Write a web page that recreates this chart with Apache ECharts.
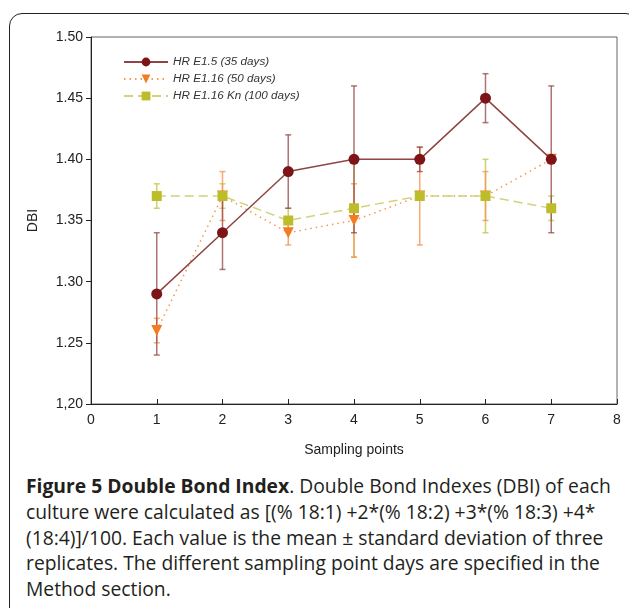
<!DOCTYPE html>
<html>
<head>
<meta charset="utf-8">
<script src="https://cdn.jsdelivr.net/npm/echarts@6/dist/echarts.min.js"></script>
<style>
  html, body { margin: 0; padding: 0; background: #fff; }
  #wrap { position: relative; width: 629px; height: 608px; overflow: hidden; }
  #frame { position: absolute; left: 9px; top: 13px; width: 630px; height: 640px;
           border: 1.5px solid #222; border-radius: 13px; box-sizing: border-box; }
  #chart { position: absolute; left: 0; top: 0; width: 629px; height: 470px; }
  #caption { position: absolute; left: 26px; top: 473px; width: 600px;
             font-family: "Open Sans", sans-serif; font-size: 19.3px; line-height: 25.8px;
             color: #231f20; white-space: nowrap; }
  #caption b { font-weight: 700; }
</style>
</head>
<body>
<div id="wrap">
  <div id="frame"></div>
  <div id="chart"></div>
  <div id="caption"><b>Figure 5 Double Bond Index</b>. Double Bond Indexes (DBI) of each<br>culture were calculated as [(% 18:1) +2*(% 18:2) +3*(% 18:3) +4*<br>(18:4)]/100. Each value is the mean ± standard deviation of three<br>replicates. The different sampling point days are specified in the<br>Method section.</div>
</div>
<script>
    // sampling points 1..7
    var samplingPoints = [1, 2, 3, 4, 5, 6, 7];
    var xTickLabels = ['0', '1', '2', '3', '4', '5', '6', '7', '8'];
    var yTickLabels = ['1,20', '1.25', '1.30', '1.35', '1.40', '1.45', '1.50'];

    var seriesNames = ['HR E1.5 (35 days)', 'HR E1.16 (50 days)', 'HR E1.16 Kn (100 days)'];

    var dbiE15 = [1.29, 1.34, 1.39, 1.40, 1.40, 1.45, 1.40];
    var sdE15 = [0.05, 0.03, 0.03, 0.06, 0.01, 0.02, 0.06];

    var dbiE116 = [1.26, 1.37, 1.34, 1.35, 1.37, 1.37, 1.40];
    var sdE116 = [0.01, 0.02, 0.01, 0.03, 0.04, 0.02, 0.00];

    var dbiE116Kn = [1.37, 1.37, 1.35, 1.36, 1.37, 1.37, 1.36];
    var sdE116Kn = [0.01, 0.01, 0.01, 0.04, 0.00, 0.03, 0.01];

    var chart = echarts.init(document.getElementById('chart'));

    function toPoints(vals) {
        var out = [];
        for (var i = 0; i < vals.length; i++) {
            out.push([samplingPoints[i], vals[i]]);
        }
        return out;
    }

    function toErr(vals, sd) {
        var out = [];
        for (var i = 0; i < vals.length; i++) {
            out.push([samplingPoints[i], vals[i] - sd[i], vals[i] + sd[i]]);
        }
        return out;
    }

    function errorSeries(vals, sd, color) {
        return {
            type: 'custom',
            silent: true,
            z: 1,
            data: toErr(vals, sd),
            renderItem: function(params, api) {
                var x = api.value(0);
                var lo = api.coord([x, api.value(1)]);
                var hi = api.coord([x, api.value(2)]);
                var w = 3;
                var st = { stroke: color, lineWidth: 1.5 };
                return {
                    type: 'group',
                    children: [
                        { type: 'line', shape: { x1: hi[0], y1: hi[1], x2: lo[0], y2: lo[1] }, style: st },
                        { type: 'line', shape: { x1: hi[0] - w, y1: hi[1], x2: hi[0] + w, y2: hi[1] }, style: st },
                        { type: 'line', shape: { x1: lo[0] - w, y1: lo[1], x2: lo[0] + w, y2: lo[1] }, style: st }
                    ]
                };
            }
        };
    }

    var option = {
        animation: false,
        grid: {
            left: 91, top: 37, right: 12, bottom: 66,
            show: true, borderColor: '#666', borderWidth: 1
        },
        legend: {
            orient: 'vertical',
            left: 118, top: 51,
            itemWidth: 44, itemHeight: 11, itemGap: 5,
            data: seriesNames,
            textStyle: { fontFamily: 'Liberation Sans', fontStyle: 'italic', fontSize: 11.7, color: '#333' }
        },
        xAxis: {
            type: 'value', min: 0, max: 8, interval: 1,
            name: 'Sampling points', nameLocation: 'middle', nameGap: 39,
            nameTextStyle: { fontFamily: 'Liberation Sans', fontSize: 14, color: '#222' },
            axisLine: { lineStyle: { color: '#222', width: 1 } },
            axisTick: { inside: true, length: 5, lineStyle: { color: '#222' } },
            axisLabel: {
                margin: 9, fontFamily: 'Liberation Sans', fontSize: 14, color: '#222',
                formatter: function(v) { return xTickLabels[Math.round(v)]; }
            },
            splitLine: { show: false }
        },
        yAxis: {
            type: 'value', min: 1.2, max: 1.5, interval: 0.05,
            name: 'DBI', nameLocation: 'middle', nameGap: 51, nameRotate: 90,
            nameTextStyle: { fontFamily: 'Liberation Sans', fontSize: 14, color: '#222' },
            axisLine: { show: true, lineStyle: { color: '#222', width: 1 } },
            axisTick: { show: true, inside: false, length: 5, lineStyle: { color: '#222' } },
            axisLabel: {
                margin: 8, fontFamily: 'Liberation Sans', fontSize: 14, color: '#222',
                formatter: function(v) { return yTickLabels[Math.round((v - 1.2) / 0.05)]; }
            },
            splitLine: { show: false }
        },
        series: [
            errorSeries(dbiE116Kn, sdE116Kn, 'rgba(200,200,90,0.85)'),
            errorSeries(dbiE116, sdE116, 'rgba(245,150,80,0.8)'),
            errorSeries(dbiE15, sdE15, 'rgba(150,70,70,0.75)'),
            {
                name: seriesNames[0], type: 'line', z: 4,
                data: toPoints(dbiE15),
                symbol: 'circle', symbolSize: 11,
                itemStyle: { color: '#7c1418' },
                lineStyle: { color: '#8f4545', width: 1.5, type: 'solid' }
            },
            {
                name: seriesNames[1], type: 'line', z: 3,
                data: toPoints(dbiE116),
                symbol: 'triangle', symbolRotate: 180, symbolSize: 11,
                itemStyle: { color: '#f47b20' },
                lineStyle: { color: '#f5974f', width: 1.5, type: [1.5, 4] }
            },
            {
                name: seriesNames[2], type: 'line', z: 3,
                data: toPoints(dbiE116Kn),
                symbol: 'rect', symbolSize: 10,
                itemStyle: { color: '#bdbd2c' },
                lineStyle: { color: '#d2d27a', width: 1.5, type: [9, 5] }
            }
        ]
    };

    chart.setOption(option);
</script>
</body>
</html>
